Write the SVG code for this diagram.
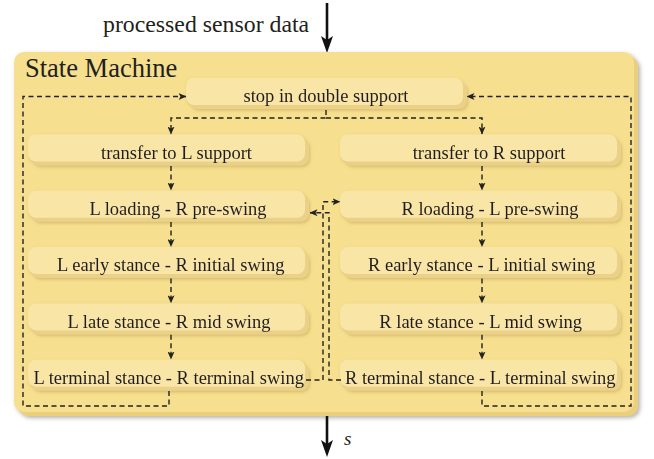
<svg xmlns="http://www.w3.org/2000/svg" width="654" height="459" viewBox="0 0 654 459" font-family="'Liberation Serif', 'Times New Roman', Times, 'DejaVu Serif', serif">
  <defs>
    <style>
      text { fill: #231f20; }
      .lbl { font-size: 18.5px; text-anchor: middle; }
      .title { font-size: 26.5px; }
      .io { font-size: 23.8px; }
      .face { fill: #f9e6a7; }
      .bevel { fill: #ead187; }
      .dash { fill: none; stroke: #222; stroke-width: 1.4; stroke-dasharray: 5 3.5; marker-end: url(#tip); }
      .solid { fill: none; stroke: #111; stroke-width: 2.6; }
    </style>
    <filter id="boxShadow" x="-5%" y="-5%" width="112%" height="115%">
      <feDropShadow dx="2" dy="2" stdDeviation="2.2" flood-color="#7a7364" flood-opacity="0.55"/>
    </filter>
    <filter id="nodeShadow" x="-5%" y="-20%" width="112%" height="150%">
      <feDropShadow dx="1" dy="1.5" stdDeviation="1.4" flood-color="#b59a4c" flood-opacity="0.5"/>
    </filter>
    <marker id="tip" viewBox="0 0 8 7" refX="7.5" refY="3.5" markerWidth="8" markerHeight="7" markerUnits="userSpaceOnUse" orient="auto">
      <path d="M0,0 L8,3.5 L0,7 L2,3.5 z" fill="#222"/>
    </marker>
    <!-- state box: beveled rounded rectangle -->
    <g id="state">
      <rect class="bevel" x="4" y="4" width="277" height="27" rx="8"/>
      <rect class="face" x="0" y="0" width="277" height="27" rx="8"/>
    </g>
  </defs>

  <!-- input arrow and label -->
  <text class="io" x="103" y="32">processed sensor data</text>
  <g id="input-arrow">
    <line class="solid" x1="327" y1="3" x2="327" y2="42"/>
    <polygon points="327,53 321,36 327,40 333,36" fill="#111"/>
  </g>

  <!-- container -->
  <g id="state-machine">
    <g filter="url(#boxShadow)">
      <rect x="18" y="56" width="620" height="360" rx="10" fill="#eacf7c"/>
      <rect x="14" y="52" width="620" height="360" rx="10" fill="#f6df8e"/>
    </g>
    <text class="title" x="25" y="77">State Machine</text>
  </g>

  <!-- states -->
  <g id="stop" filter="url(#nodeShadow)">
    <use href="#state" x="186" y="78"/>
    <text class="lbl" x="326" y="102">stop in double support</text>
  </g>
  <g id="transfer-l" filter="url(#nodeShadow)">
    <use href="#state" x="28" y="134.5"/>
    <text class="lbl" x="176.5" y="158.8">transfer to L support</text>
  </g>
  <g id="transfer-r" filter="url(#nodeShadow)">
    <use href="#state" x="340" y="134.5"/>
    <text class="lbl" x="489" y="158.8">transfer to R support</text>
  </g>
  <g id="l-loading" filter="url(#nodeShadow)">
    <use href="#state" x="28" y="190.8"/>
    <text class="lbl" x="178" y="215">L loading - R pre-swing</text>
  </g>
  <g id="r-loading" filter="url(#nodeShadow)">
    <use href="#state" x="340" y="190.8"/>
    <text class="lbl" x="490" y="215">R loading - L pre-swing</text>
  </g>
  <g id="l-early" filter="url(#nodeShadow)">
    <use href="#state" x="28" y="247.1"/>
    <text class="lbl" x="170.7" y="271.3">L early stance - R initial swing</text>
  </g>
  <g id="r-early" filter="url(#nodeShadow)">
    <use href="#state" x="340" y="247.1"/>
    <text class="lbl" x="481.7" y="271.3">R early stance - L initial swing</text>
  </g>
  <g id="l-late" filter="url(#nodeShadow)">
    <use href="#state" x="28" y="303.4"/>
    <text class="lbl" x="169" y="327.5">L late stance - R mid swing</text>
  </g>
  <g id="r-late" filter="url(#nodeShadow)">
    <use href="#state" x="340" y="303.4"/>
    <text class="lbl" x="480.7" y="327.5">R late stance - L mid swing</text>
  </g>
  <g id="l-terminal" filter="url(#nodeShadow)">
    <use href="#state" x="28" y="359.7"/>
    <text class="lbl" x="168.7" y="384">L terminal stance - R terminal swing</text>
  </g>
  <g id="r-terminal" filter="url(#nodeShadow)">
    <use href="#state" x="340" y="359.7"/>
    <text class="lbl" x="480.3" y="384">R terminal stance - L terminal swing</text>
  </g>

  <!-- transitions -->
  <g id="connectors">
    <path class="dash" d="M326,110 V118 H171 V134"/>
    <path class="dash" d="M326,118 H482 V134"/>
    <path class="dash" d="M171,166 V190"/>
    <path class="dash" d="M171,222 V246.5"/>
    <path class="dash" d="M171,278.5 V302.8"/>
    <path class="dash" d="M171,334.8 V359"/>
    <path class="dash" d="M482,166 V190"/>
    <path class="dash" d="M482,222 V246.5"/>
    <path class="dash" d="M482,278.5 V302.8"/>
    <path class="dash" d="M482,334.8 V359"/>
    <path class="dash" d="M169,391 V406 H23 V96.5 H186"/>
    <path class="dash" d="M482,391 V406 H631 V96.5 H467"/>
    <path class="dash" d="M306,380 H323 V201.7 H340"/>
    <path class="dash" d="M341,380 H329 V212.7 H310"/>
  </g>

  <!-- output arrow and label -->
  <g id="output-arrow">
    <line class="solid" x1="327" y1="416" x2="327" y2="446"/>
    <polygon points="327,457 321,440 327,444 333,440" fill="#111"/>
  </g>
  <text x="344" y="445" style="font-size:19px;font-style:italic">s</text>
</svg>
